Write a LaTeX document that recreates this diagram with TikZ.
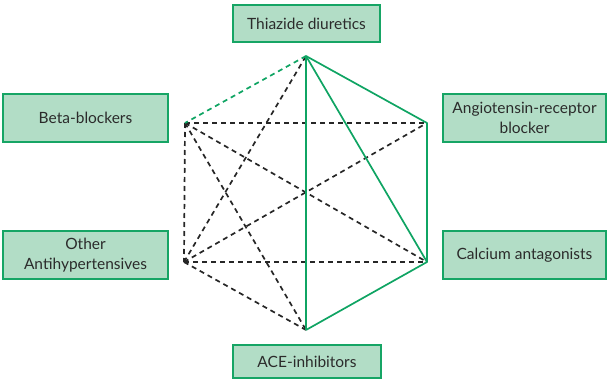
\documentclass[tikz,border=0pt]{standalone}
\usepackage{fontspec}
\setmainfont{Lato}
\definecolor{boxfill}{HTML}{B2DDC6}
\definecolor{boxline}{HTML}{16A565}
\definecolor{linkgreen}{HTML}{0FA463}
\definecolor{txt}{HTML}{2B2B2B}
\begin{document}
\begin{tikzpicture}[x=1pt,y=-1pt,
  drug/.style={draw=boxline,fill=boxfill,line width=1.3pt,text=txt,
    font=\fontsize{15.5}{20.5}\selectfont,align=center,inner sep=0pt},
  strong/.style={draw=linkgreen,line width=1.7pt},
  weakgreen/.style={draw=linkgreen,line width=1.7pt,dash pattern=on 5pt off 4pt},
  weak/.style={draw=black!85,line width=1.7pt,dash pattern=on 5pt off 4pt}]
\useasboundingbox (0,0) rectangle (609,382);

% drug classes
\node[drug,minimum width=147pt,minimum height=37pt] (thz) at (306.5,23.5) {Thiazide diuretics};
\node[drug,minimum width=165pt,minimum height=48pt] (bb) at (85.5,118) {Beta-blockers};
\node[drug,minimum width=163pt,minimum height=48pt] (arb) at (524.5,118) {Angiotensin-receptor\\blocker};
\node[drug,minimum width=165pt,minimum height=48pt] (oth) at (85.5,255) {Other\\Antihypertensives};
\node[drug,minimum width=163pt,minimum height=48pt] (cca) at (524.5,255) {Calcium antagonists};
\node[drug,minimum width=148pt,minimum height=33pt] (ace) at (307,361.5) {ACE-inhibitors};

% hexagon corners
\coordinate (vT) at (306,56);
\coordinate (vB) at (185,123);
\coordinate (vA) at (427,123);
\coordinate (vO) at (184,262);
\coordinate (vC) at (427,262);
\coordinate (vE) at (306,330);

% possible but less well-tested combinations
\draw[weak] (vB) -- (vA);
\draw[weak] (vB) -- (vC);
\draw[weak] (vB) -- (vE);
\draw[weak] (vB) -- (vO);
\draw[weak] (vO) -- (vA);
\draw[weak] (vO) -- (vC);
\draw[weak] (vO) -- (vE);
\draw[weak] (vO) -- (vT);
\draw[weakgreen] (vT) -- (vB);

% preferred combinations
\draw[strong,line join=round] (vE) -- (vT) -- (vA) -- (vC) -- (vE);
\draw[strong] (vT) -- (vC);
\end{tikzpicture}
\end{document}
